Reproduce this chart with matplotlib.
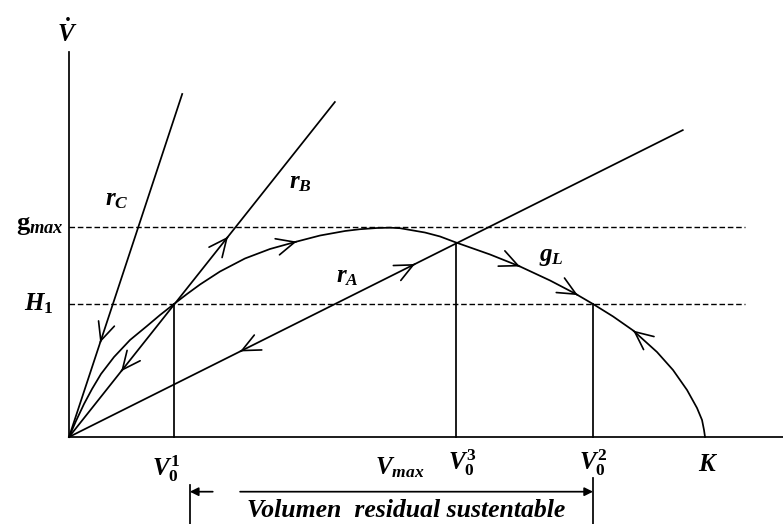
import numpy as np
import matplotlib
matplotlib.use("Agg")
import matplotlib.pyplot as plt

plt.rcParams['font.family'] = ['Liberation Serif', 'DejaVu Serif']
plt.rcParams['mathtext.fontset'] = 'custom'
plt.rcParams['mathtext.rm'] = 'Liberation Serif:bold'
plt.rcParams['mathtext.it'] = 'Liberation Serif:italic:bold'
plt.rcParams['mathtext.bf'] = 'Liberation Serif:bold:italic'

# growth curve g_L (volume V, growth Vdot), K = 100
V = [0, 1.10, 2.36, 3.62, 5.03, 7.08, 9.59, 12.26, 14.31, 16.51, 18.55,
     20.60, 23.74, 27.67, 31.60, 35.85, 39.47, 43.40, 45.75, 48.43, 50.47,
     52.04, 55.97, 58.33, 60.85, 66.19, 70.91, 75.63, 79.56, 82.39, 85.53,
     88.68, 92.45, 94.97, 97.17, 98.74, 99.53, 99.84, 100]
g = [0, 2.52, 5.19, 7.55, 9.91, 12.58, 15.25, 17.45, 19.18, 20.91, 22.48,
     23.98, 26.02, 28.07, 29.56, 30.74, 31.68, 32.39, 32.67, 32.86, 32.91,
     32.83, 32.15, 31.53, 30.58, 28.70, 26.81, 24.61, 22.56, 20.91, 18.96,
     16.76, 13.36, 10.53, 7.39, 4.56, 2.67, 1.10, 0]

# harvest rate lines r = slope * V
rate_names = ['C', 'B', 'A']
rate_slopes = [3.03, 1.26, 0.50]
rate_ends = [17.8, 41.8, 96.5]

g_max = 33.0
H1 = 20.9
V01, Vmax, V03, V02, K = 16.51, 52.0, 60.85, 82.39, 100.0

# arrows: (which line, V position, direction)
arrows = [('C', 4.9, -1), ('B', 8.2, -1), ('B', 25.0, 1), ('A', 26.9, -1),
          ('A', 54.4, 1), ('g', 35.8, 1), ('g', 70.9, 1), ('g', 80.0, 1),
          ('g', 88.7, -1)]

fig = plt.figure(figsize=(7.83, 5.24), dpi=100)
ax = fig.add_axes([0, 0, 1, 1])
ax.set_xlim(-10.85, 112.26)
ax.set_ylim(-13.68, 68.71)
ax.axis('off')

lw = 1.25
# axes
ax.plot([0, 0], [0, 60.5], color='black', lw=lw)
ax.plot([0, 112.26], [0, 0], color='black', lw=lw)

# dashed levels
for level in [g_max, H1]:
    ax.plot([0, 106.3], [level, level], color='black', lw=1.0,
            dashes=(4, 2))

# growth curve
ax.plot(V, g, color='black', lw=lw, solid_joinstyle='round')

# rate lines
for name, s, xe in zip(rate_names, rate_slopes, rate_ends):
    ax.plot([0, xe], [0, s * xe], color='black', lw=lw)

# vertical drops
for xv in [V01, V03, V02]:
    ax.plot([xv, xv], [0, np.interp(xv, V, g)], color='black', lw=lw)

# chevron arrows
slopes = dict(zip(rate_names, rate_slopes))
for which, xa, d in arrows:
    if which == 'g':
        ya = np.interp(xa, V, g)
        dx = 2.0
        dy = np.interp(xa + 1.0, V, g) - np.interp(xa - 1.0, V, g)
    else:
        ya = slopes[which] * xa
        dx, dy = 1.0, slopes[which]
    n = np.hypot(dx, dy)
    ux, uy = d * dx / n * 0.05, d * dy / n * 0.05
    ax.annotate('', xy=(xa, ya), xytext=(xa - ux, ya - uy),
                arrowprops=dict(arrowstyle='->,head_length=1.3,head_width=0.6',
                                lw=1.2, color='black', shrinkA=0, shrinkB=0))

fs = 18
ax.text(-0.3, 63.5, r'$\dot{V}$', fontsize=fs, ha='center', va='center')
ax.text(7.5, 37.3, r'$r_C$', fontsize=fs, ha='center', va='center')
ax.text(36.3, 39.9, r'$r_B$', fontsize=fs, ha='center', va='center')
ax.text(43.7, 25.2, r'$r_A$', fontsize=fs, ha='center', va='center')
ax.text(75.9, 28.3, r'$g_L$', fontsize=fs, ha='center', va='center')
ax.text(-0.8, g_max + 0.3, r'$\mathrm{g}_{max}$', fontsize=19, ha='right',
        va='center')
ax.text(-2.5, H1, r'$H_1$', fontsize=fs, ha='right', va='center')

ax.text(V01 - 1.2, -5.0, r'$V_0^1$', fontsize=fs, ha='center', va='center')
ax.text(Vmax, -4.8, r'$V_{max}$', fontsize=fs, ha='center', va='center')
ax.text(V03 + 0.9, -4.0, r'$V_0^3$', fontsize=fs, ha='center', va='center')
ax.text(V02, -4.0, r'$V_0^2$', fontsize=fs, ha='center', va='center')
ax.text(K + 0.5, -4.4, r'$K$', fontsize=fs, ha='center', va='center')

# sustainable residual volume bracket
ax.plot([19.0, 19.0], [-7.5, -13.68], color='black', lw=lw)
ax.plot([V02, V02], [-6.4, -13.68], color='black', lw=lw)
ax.annotate('', xy=(19.0, -8.6), xytext=(22.6, -8.6),
            arrowprops=dict(arrowstyle='-|>,head_length=0.5,head_width=0.25',
                            lw=lw, color='black', shrinkA=0, shrinkB=0))
ax.annotate('', xy=(V02, -8.6), xytext=(26.9, -8.6),
            arrowprops=dict(arrowstyle='-|>,head_length=0.5,head_width=0.25',
                            lw=lw, color='black', shrinkA=0, shrinkB=0))
ax.text(53.0, -11.5, 'Volumen  residual sustentable', fontsize=18.5,
        style='italic', weight='bold', ha='center', va='center')

fig.savefig('out.png', dpi=100)
